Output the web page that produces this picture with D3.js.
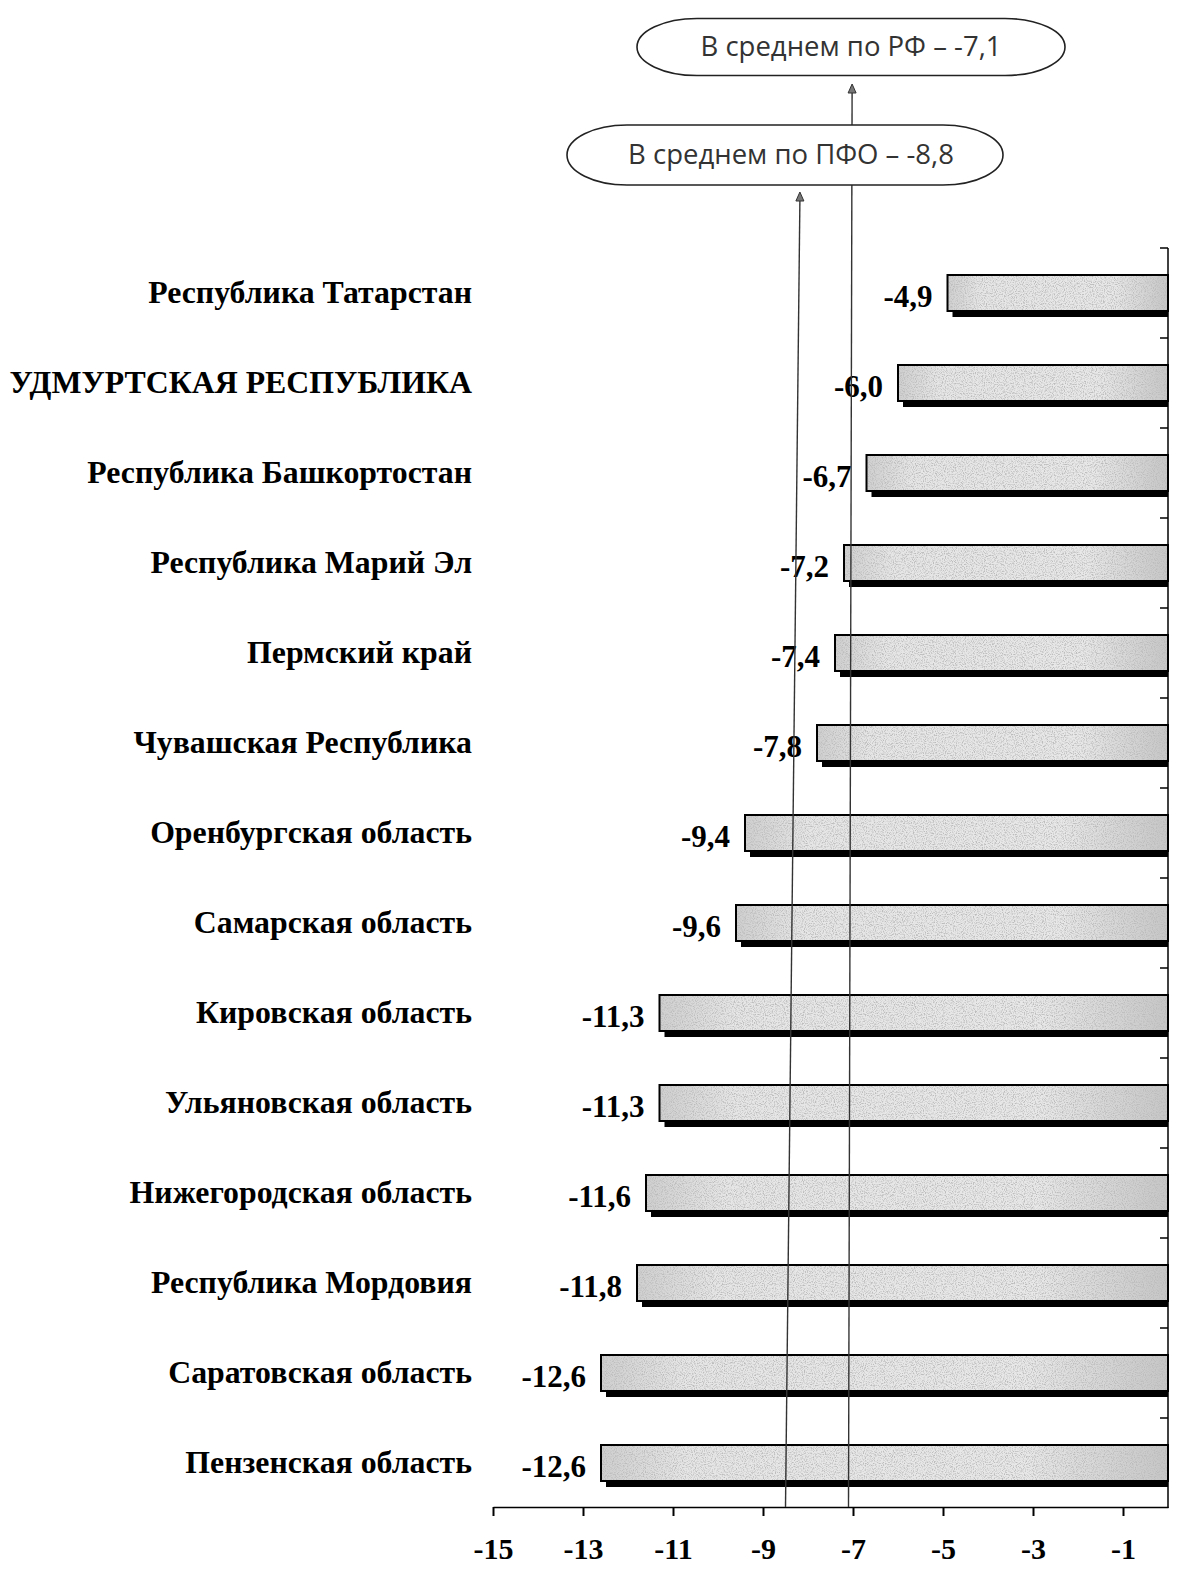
<!DOCTYPE html>
<html>
<head>
<meta charset="utf-8">
<script src="https://cdn.jsdelivr.net/npm/d3@7/dist/d3.min.js"></script>
<style>
  body { margin: 0; background: #fff; }
  svg { display: block; }
</style>
</head>
<body>
<script>
// data
var regions = ["Республика Татарстан", "УДМУРТСКАЯ РЕСПУБЛИКА", "Республика Башкортостан",
  "Республика Марий Эл", "Пермский край", "Чувашская Республика", "Оренбургская область",
  "Самарская область", "Кировская область", "Ульяновская область", "Нижегородская область",
  "Республика Мордовия", "Саратовская область", "Пензенская область"];
var values = [-4.9, -6.0, -6.7, -7.2, -7.4, -7.8, -9.4, -9.6, -11.3, -11.3, -11.6, -11.8, -12.6, -12.6];
var xTicks = [-15, -13, -11, -9, -7, -5, -3, -1];
// average lines: label, top / bottom position (hand drawn, slightly slanted)
var avgLabels = ["В среднем по РФ – -7,1", "В среднем по ПФО – -8,8"];
var avgTop = [-7.02, -8.18];
var avgBottom = [-7.1, -8.5];

var width = 1181, height = 1570;
var svg = d3.select("body").append("svg")
  .attr("width", width).attr("height", height);

var x = d3.scaleLinear().domain([-15, 0]).range([493, 1168]);
var y = d3.scaleBand().domain(regions).range([248, 1508]).paddingInner(0.6).paddingOuter(0.3);

var defs = svg.append("defs");
var grad = defs.append("linearGradient").attr("id", "barGrad");
grad.append("stop").attr("offset", "0%").attr("stop-color", "#cfcfcf");
grad.append("stop").attr("offset", "15%").attr("stop-color", "#e6e6e6");
grad.append("stop").attr("offset", "75%").attr("stop-color", "#e8e8e8");
grad.append("stop").attr("offset", "100%").attr("stop-color", "#c6c6c6");

// speckle noise like the scanned fill
var noise = defs.append("filter").attr("id", "noise").attr("x", 0).attr("y", 0).attr("width", 1).attr("height", 1);
noise.append("feTurbulence").attr("type", "fractalNoise").attr("baseFrequency", 0.9)
  .attr("numOctaves", 2).attr("seed", 3).attr("result", "t");
noise.append("feColorMatrix").attr("in", "t").attr("type", "matrix")
  .attr("values", "0 0 0 0 0.5  0 0 0 0 0.5  0 0 0 0 0.5  0 0 0 -3 1.7").attr("result", "n");
noise.append("feComposite").attr("in", "n").attr("in2", "SourceGraphic").attr("operator", "in").attr("result", "nc");
var merge = noise.append("feMerge");
merge.append("feMergeNode").attr("in", "SourceGraphic");
merge.append("feMergeNode").attr("in", "nc");

// bars
var bars = svg.append("g").selectAll("g")
  .data(regions).enter().append("g");

bars.append("rect") // shadow
  .attr("x", function(d, i){ return x(values[i]) + 5; })
  .attr("y", function(d){ return y(d) + 6; })
  .attr("width", function(d, i){ return x(0) - x(values[i]) - 5; })
  .attr("height", y.bandwidth())
  .attr("fill", "#000");

bars.append("rect")
  .attr("x", function(d, i){ return x(values[i]); })
  .attr("y", function(d){ return y(d); })
  .attr("width", function(d, i){ return x(0) - x(values[i]); })
  .attr("height", y.bandwidth())
  .attr("fill", "url(#barGrad)")
  .attr("filter", "url(#noise)");

bars.append("rect")
  .attr("x", function(d, i){ return x(values[i]); })
  .attr("y", function(d){ return y(d); })
  .attr("width", function(d, i){ return x(0) - x(values[i]); })
  .attr("height", y.bandwidth())
  .attr("fill", "none").attr("stroke", "#000").attr("stroke-width", 2);

// value labels
bars.append("text")
  .attr("x", function(d, i){ return x(values[i]) - 15; })
  .attr("y", function(d){ return y(d) + y.bandwidth() / 2 + 14; })
  .attr("text-anchor", "end")
  .attr("font-family", "Liberation Serif, serif").attr("font-weight", "bold").attr("font-size", 31)
  .text(function(d, i){ return d3.format(".1f")(values[i]).replace(".", ",").replace("−", "-"); });

// category labels
svg.append("g").selectAll("text")
  .data(regions).enter().append("text")
  .attr("x", 472)
  .attr("y", function(d){ return y(d) + y.bandwidth() / 2 + 10; })
  .attr("text-anchor", "end")
  .attr("font-family", "Liberation Serif, serif").attr("font-weight", "bold").attr("font-size", 31.8)
  .text(function(d){ return d; });

// right axis with ticks on band edges
var yAxis = svg.append("g").attr("stroke", "#000").attr("stroke-width", 1.5);
yAxis.append("line").attr("x1", x(0)).attr("x2", x(0)).attr("y1", 248).attr("y2", 1508);
yAxis.selectAll(".tk").data(d3.range(regions.length)).enter().append("line")
  .attr("x1", x(0) - 8).attr("x2", x(0))
  .attr("y1", function(i){ return y(regions[i]) - y.step() * 0.3; })
  .attr("y2", function(i){ return y(regions[i]) - y.step() * 0.3; });

// x axis
var xAxis = svg.append("g").attr("transform", "translate(0,1507)")
  .call(d3.axisBottom(x).tickValues(xTicks).tickSizeInner(9).tickSizeOuter(0).tickFormat(function(d){ return "-" + Math.abs(d); }));
xAxis.select(".domain").attr("stroke-width", 1.5);
xAxis.selectAll(".tick line").attr("stroke-width", 2);
xAxis.selectAll(".tick text")
  .attr("font-family", "Liberation Serif, serif").attr("font-weight", "bold").attr("font-size", 30)
  .attr("dy", "1.05em").attr("y", 20);

// average lines
var cy = [47, 155];
var cx = [851, 785];
var cw = [428, 436];
var ch = [57, 60];
var tipY = [84, 192];
avgLabels.forEach(function(lbl, i){
  svg.append("line")
    .attr("x1", x(avgTop[i])).attr("y1", tipY[i] + 8)
    .attr("x2", x(avgBottom[i])).attr("y2", 1507)
    .attr("stroke", "#333").attr("stroke-width", 1.4);
  svg.append("path")
    .attr("d", "M" + x(avgTop[i]) + "," + tipY[i] + " l-4,9 l8,0 z")
    .attr("fill", "#777").attr("stroke", "#333").attr("stroke-width", 1);
  svg.append("rect")
    .attr("x", cx[i] - cw[i] / 2).attr("y", cy[i] - ch[i] / 2)
    .attr("width", cw[i]).attr("height", ch[i])
    .attr("rx", 60).attr("ry", ch[i] / 2)
    .attr("fill", "#fff").attr("stroke", "#222").attr("stroke-width", 1.6);
  svg.append("text")
    .attr("x", cx[i] + (i ? 6 : 0)).attr("y", cy[i] + 9)
    .attr("text-anchor", "middle")
    .attr("font-family", "Open Sans, sans-serif").attr("font-size", 27.5).attr("fill", "#333")
    .text(lbl);
});
</script>
</body>
</html>
